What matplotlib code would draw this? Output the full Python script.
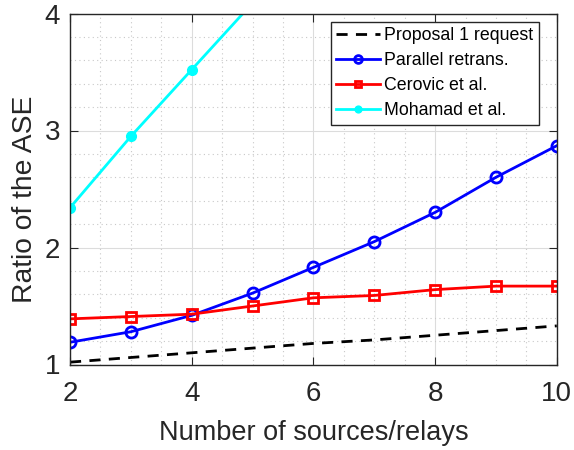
import numpy as np
import matplotlib
matplotlib.use("Agg")
import matplotlib.pyplot as plt
from matplotlib.ticker import MultipleLocator

plt.rcParams['font.family'] = ['Liberation Sans', 'DejaVu Sans']

# data
x = [2, 3, 4, 5, 6, 7, 8, 9, 10]
proposal = [1.02, 1.06, 1.10, 1.14, 1.18, 1.21, 1.25, 1.29, 1.33]
parallel = [1.19, 1.28, 1.42, 1.61, 1.83, 2.05, 2.30, 2.60, 2.87]
cerovic = [1.39, 1.41, 1.43, 1.50, 1.57, 1.59, 1.64, 1.67, 1.67]
x_moh = [2, 3, 4, 5]
mohamad = [2.34, 2.95, 3.52, 4.09]

fig = plt.figure(figsize=(5.74, 4.5), dpi=100)
ax = fig.add_axes([0.122, 0.19, 0.848, 0.780])

ax.plot(x, proposal, 'k--', lw=2, dashes=(4, 3), label='Proposal 1 request')
ax.plot(x, parallel, color='blue', lw=2, marker='o', ms=8, mfc='none', mew=2,
        label='Parallel retrans.')
ax.plot(x, cerovic, color='red', lw=2, marker='s', ms=7, mfc='none', mew=2,
        label='Cerovic et al.')
ax.plot(x_moh, mohamad, color='cyan', lw=2, marker='o', ms=7, mfc='cyan', mec='cyan',
        label='Mohamad et al.')

ax.set_xlim(2, 10)
ax.set_ylim(1, 4)
ax.xaxis.set_major_locator(MultipleLocator(2))
ax.xaxis.set_minor_locator(MultipleLocator(0.5))
ax.yaxis.set_major_locator(MultipleLocator(1))
ax.yaxis.set_minor_locator(MultipleLocator(0.2))
ax.grid(True, which='major', color='#dcdcdc', lw=0.8)
ax.grid(True, which='minor', color='#c8c8c8', lw=0.8, ls=(0, (1, 3)))
ax.set_axisbelow(True)

for s in ax.spines.values():
    s.set_color('#262626')
    s.set_linewidth(1.0)
ax.tick_params(which='both', direction='in', top=True, right=True, colors='#262626',
               labelsize=20)
ax.tick_params(which='major', length=6)
ax.tick_params(which='minor', length=0)
ax.tick_params(axis='x', pad=12)
ax.tick_params(axis='y', pad=7)

ax.set_xlabel('Number of sources/relays', fontsize=19.5, color='#262626', labelpad=9)
ax.set_ylabel('Ratio of the ASE', fontsize=20.3, color='#262626', labelpad=5)
ax.yaxis.label.set_y(0.47)

leg = ax.legend(loc='upper right', bbox_to_anchor=(0.963, 0.976), borderaxespad=0,
                fontsize=12.8, fancybox=False, framealpha=1, markerscale=0.7,
                edgecolor='#262626', handlelength=2.5,
                labelspacing=0.45, handletextpad=0.22, borderpad=0.3)
leg.get_frame().set_linewidth(1.0)

fig.savefig('out.png', dpi=100)
